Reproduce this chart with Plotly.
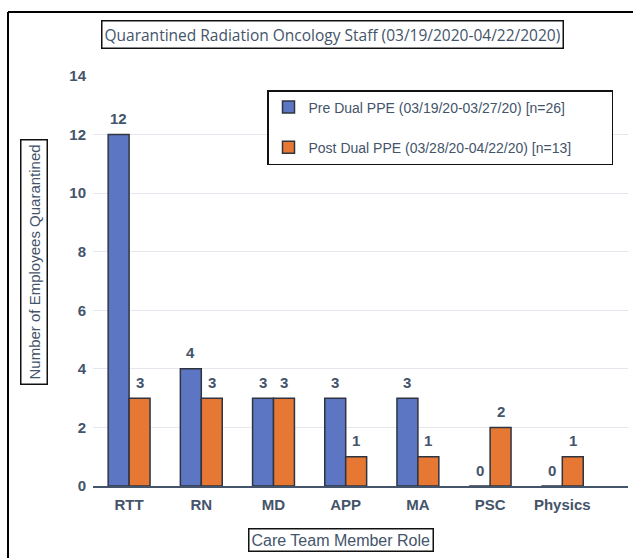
import plotly.graph_objects as go

roles = ["RTT", "RN", "MD", "APP", "MA", "PSC", "Physics"]
pre_values = [12, 4, 3, 3, 3, 0, 0]
post_values = [3, 3, 3, 1, 1, 2, 1]
pre_name = "Pre Dual PPE (03/19/20-03/27/20) [n=26]"
post_name = "Post Dual PPE (03/28/20-04/22/20) [n=13]"
title_text = "Quarantined Radiation Oncology Staff (03/19/2020-04/22/2020)"
x_title = "Care Team Member Role"
y_title = "Number of Employees Quarantined"

W, H = 633, 558
L, R, T, B = 93, 5, 76, 72
pw, ph = W - L - R, H - T - B

def px(x):
    return (x - L) / pw

def py(y):
    return (H - B - y) / ph

txt = "#44546a"
pad = "\u00a0" * 9

fig = go.Figure()
fig.add_trace(go.Bar(
    x=roles, y=pre_values, name=pre_name + pad,
    marker=dict(color="#5d76c3", line=dict(color="#2f3440", width=1.5)),
    legendgroup="a",
))
fig.add_trace(go.Bar(
    x=roles, y=post_values, name=post_name + pad,
    marker=dict(color="#e67833", line=dict(color="#2f3440", width=1.5)),
    legendgroup="b",
))

# value labels above each bar
for vals, shift in ((pre_values, -10.5), (post_values, 10.5)):
    for r, v in zip(roles, vals):
        fig.add_annotation(
            x=r, y=v, xref="x", yref="y", text=str(v), showarrow=False,
            xshift=shift, yshift=16, xanchor="center", yanchor="middle",
            font=dict(family="Liberation Sans", size=15, color=txt, weight="bold"),
        )

fig.update_layout(
    width=W, height=H,
    margin=dict(l=L, r=R, t=T, b=B),
    paper_bgcolor="white", plot_bgcolor="white",
    barmode="group", bargap=0.42, bargroupgap=0,
    font=dict(family="Liberation Sans", color=txt),
    legend=dict(
        x=px(267), y=py(90), xanchor="left", yanchor="top",
        bordercolor="#111111", borderwidth=1.5, bgcolor="white",
        font=dict(family="Liberation Sans", size=14, color=txt),
        tracegroupgap=19,
    ),
    xaxis=dict(
        range=[-0.5, 6.91], showgrid=False, showline=True,
        linecolor="#44546a", linewidth=2, ticks="",
        tickfont=dict(family="Liberation Sans", size=15, color=txt, weight="bold"),
        ticklabelstandoff=4,
    ),
    yaxis=dict(
        range=[0, 14], tickvals=[0, 2, 4, 6, 8, 10, 12, 14],
        showgrid=True, gridcolor="#e4e8ee", gridwidth=1,
        zeroline=False, showline=False, ticks="",
        tickfont=dict(family="Liberation Sans", size=15, color=txt, weight="bold"),
        ticklabelstandoff=6,
    ),
    showlegend=True,
)

fig.add_shape(type="line", xref="paper", yref="paper",
              x0=px(8), x1=px(8), y0=py(12), y1=py(H + 20),
              line=dict(color="black", width=2))
fig.add_shape(type="line", xref="paper", yref="paper",
              x0=px(8), x1=px(W + 20), y0=py(12), y1=py(12),
              line=dict(color="black", width=2))

fig.add_annotation(
    text=title_text, xref="paper", yref="paper",
    x=px(332), y=py(35), xanchor="center", yanchor="middle", showarrow=False,
    font=dict(family="Open Sans", size=15.5, color=txt),
    bordercolor="#111111", borderwidth=1.5, borderpad=2, bgcolor="white",
)
fig.add_annotation(
    text=x_title, xref="paper", yref="paper",
    x=px(341), y=py(540), xanchor="center", yanchor="middle", showarrow=False,
    font=dict(family="Liberation Sans", size=16, color=txt),
    bordercolor="#111111", borderwidth=1.5, borderpad=2, bgcolor="white",
)
fig.add_annotation(
    text=y_title, xref="paper", yref="paper",
    x=px(34), y=py(262), xanchor="center", yanchor="middle", showarrow=False,
    textangle=-90,
    font=dict(family="Liberation Sans", size=15, color=txt),
    bordercolor="#111111", borderwidth=1.5, borderpad=4, bgcolor="white",
)

fig.write_html("out.html", config={"displayModeBar": False},
               post_script="document.body.style.margin='0';")
